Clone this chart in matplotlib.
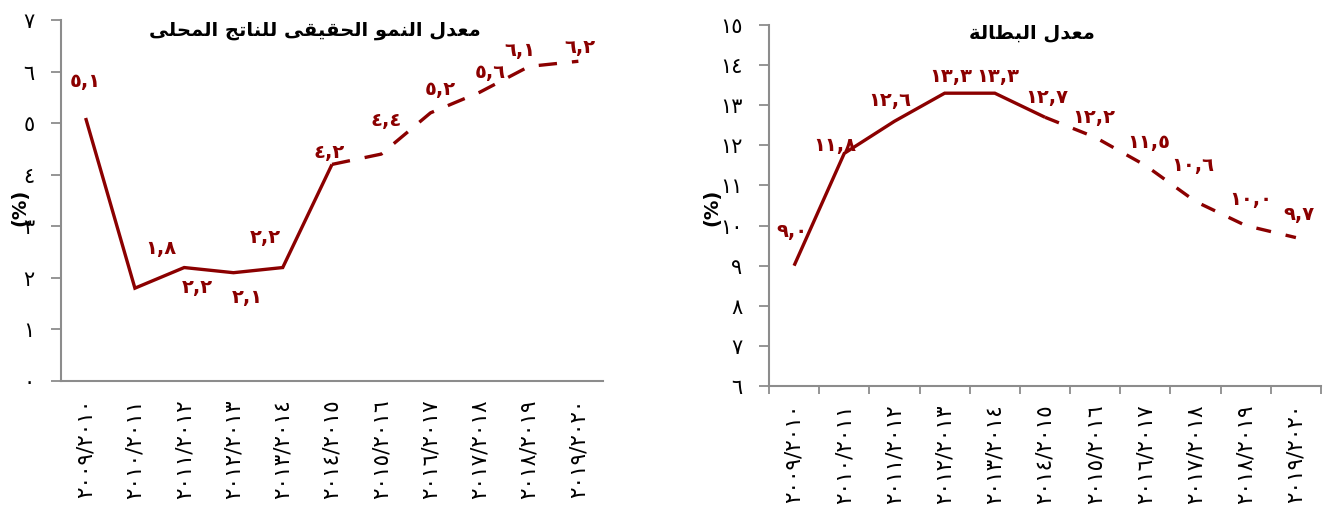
import matplotlib
matplotlib.use("Agg")
import matplotlib.pyplot as plt
from matplotlib.ticker import FixedLocator, FixedFormatter

plt.rcParams['font.family'] = ['DejaVu Sans']

# ---------------- data ----------------
years = ["٢٠٠٩/٢٠١٠", "٢٠١٠/٢٠١١", "٢٠١١/٢٠١٢", "٢٠١٢/٢٠١٣", "٢٠١٣/٢٠١٤",
         "٢٠١٤/٢٠١٥", "٢٠١٥/٢٠١٦", "٢٠١٦/٢٠١٧", "٢٠١٧/٢٠١٨", "٢٠١٨/٢٠١٩",
         "٢٠١٩/٢٠٢٠"]
gdp_growth = [5.1, 1.8, 2.2, 2.1, 2.2, 4.2, 4.4, 5.2, 5.6, 6.1, 6.2]
unemployment = [9.0, 11.8, 12.6, 13.3, 13.3, 12.7, 12.2, 11.5, 10.6, 10.0, 9.7]
actual_count = 6          # points 0..5 are actual (solid), rest projected (dashed)
title_gdp = "معدل النمو الحقيقى للناتج المحلى"
title_unemp = "معدل البطالة"
y_label = "(%)"
gdp_ticks = [0, 1, 2, 3, 4, 5, 6, 7]
unemp_ticks = [6, 7, 8, 9, 10, 11, 12, 13, 14, 15]

# label offsets in pixels (style only)
gdp_offsets = [(0, 36), (26, 40), (13, -20), (14, -25), (-17, 30), (-3, 12),
               (5, 34), (10, 23), (10, 20), (-9, 16), (2, 14)]
unemp_offsets = [(-2, 34), (-9, 8), (-5, 21), (6, 17), (3, 17), (2, 20),
                 (-1, 20), (3, 23), (-3, 36), (5, 26), (3, 23)]

RED = "#8B0000"
GREY = "#8c8c8c"

# ------------- minimal Arabic shaping (presentation forms) -------------
FORMS = {  # iso, fin, ini, med
    'ا': ('\uFE8D', '\uFE8E', None, None),
    'ب': ('\uFE8F', '\uFE90', '\uFE91', '\uFE92'),
    'ة': ('\uFE93', '\uFE94', None, None),
    'ت': ('\uFE95', '\uFE96', '\uFE97', '\uFE98'),
    'ج': ('\uFE9D', '\uFE9E', '\uFE9F', '\uFEA0'),
    'ح': ('\uFEA1', '\uFEA2', '\uFEA3', '\uFEA4'),
    'د': ('\uFEA9', '\uFEAA', None, None),
    'ط': ('\uFEC1', '\uFEC2', '\uFEC3', '\uFEC4'),
    'ع': ('\uFEC9', '\uFECA', '\uFECB', '\uFECC'),
    'ق': ('\uFED5', '\uFED6', '\uFED7', '\uFED8'),
    'ل': ('\uFEDD', '\uFEDE', '\uFEDF', '\uFEE0'),
    'م': ('\uFEE1', '\uFEE2', '\uFEE3', '\uFEE4'),
    'ن': ('\uFEE5', '\uFEE6', '\uFEE7', '\uFEE8'),
    'ه': ('\uFEE9', '\uFEEA', '\uFEEB', '\uFEEC'),
    'و': ('\uFEED', '\uFEEE', None, None),
    'ى': ('\uFEEF', '\uFEF0', '\uFBE8', '\uFBE9'),
    'ي': ('\uFEF1', '\uFEF2', '\uFEF3', '\uFEF4'),
}


def shape(text):
    chars = list(text)
    out = []
    for i, c in enumerate(chars):
        if c not in FORMS:
            out.append(c)
            continue
        prev = chars[i - 1] if i > 0 else None
        nxt = chars[i + 1] if i + 1 < len(chars) else None
        join_prev = prev in FORMS and FORMS[prev][2] is not None
        join_next = nxt in FORMS and FORMS[c][2] is not None
        iso, fin, ini, med = FORMS[c]
        if join_prev and join_next:
            out.append(med)
        elif join_prev:
            out.append(fin)
        elif join_next:
            out.append(ini)
        else:
            out.append(iso)
    return ''.join(out[::-1])


def to_ar_num(v):
    s = f"{v:.1f}".replace('.', ',')
    return s.translate(str.maketrans('0123456789', '٠١٢٣٤٥٦٧٨٩'))


def ar_int(v):
    return str(v).translate(str.maketrans('0123456789', '٠١٢٣٤٥٦٧٨٩'))


fig = plt.figure(figsize=(13.31, 5.23), dpi=100)
W, H = 1331, 523

ax1 = fig.add_axes([61 / W, 1 - 381 / H, (603 - 61) / W, (381 - 20) / H])
ax2 = fig.add_axes([769 / W, 1 - 386 / H, (1321 - 769) / W, (386 - 25) / H])


def draw(ax, values, ticks, offsets, dash, xticks_marks):
    x = list(range(len(values)))
    ax.plot(x[:actual_count], values[:actual_count], color=RED, lw=2.4,
            solid_joinstyle='miter', solid_capstyle='butt')
    ax.plot(x[actual_count - 1:], values[actual_count - 1:], color=RED, lw=2.4,
            linestyle=dash, dash_capstyle='butt')
    for xi, v, off in zip(x, values, offsets):
        ax.annotate(to_ar_num(v), (xi, v), xytext=off, textcoords='offset pixels',
                    ha='center', va='center', color=RED, fontsize=14,
                    fontweight='bold')
    ax.set_xlim(-0.5, len(values) - 0.5)
    ax.set_ylim(ticks[0], ticks[-1])
    ax.yaxis.set_major_locator(FixedLocator(ticks))
    ax.yaxis.set_major_formatter(FixedFormatter([ar_int(t) for t in ticks]))
    ax.set_xticks(x)
    ax.set_xticklabels(years, rotation=90, fontsize=15.5)
    if xticks_marks:
        ax.set_xticks([i - 0.5 for i in range(len(values) + 1)], minor=True)
        ax.tick_params(axis='x', which='minor', length=6, width=1.3,
                       color=GREY, direction='out')
    ax.tick_params(axis='x', which='major', length=0, pad=13)
    ax.tick_params(axis='y', length=7, width=1.3, color=GREY, pad=12,
                   labelsize=15)
    for s in ['top', 'right']:
        ax.spines[s].set_visible(False)
    for s in ['left', 'bottom']:
        ax.spines[s].set_color(GREY)
        ax.spines[s].set_linewidth(1.5)


draw(ax1, gdp_growth, gdp_ticks, gdp_offsets, (0, (5.5, 4.5)), False)
draw(ax2, unemployment, unemp_ticks, unemp_offsets, (0, (4.5, 4.5)), True)

fig.text(315 / W, 1 - 30 / H, shape(title_gdp), ha='center', va='center',
         fontsize=14, fontweight='bold')
fig.text(1032 / W, 1 - 33 / H, shape(title_unemp), ha='center', va='center',
         fontsize=14, fontweight='bold')
fig.text(20 / W, 1 - 207 / H, y_label, rotation=90, ha='center', va='center',
         fontsize=14, fontweight='bold')
fig.text(712 / W, 1 - 207 / H, y_label, rotation=90, ha='center', va='center',
         fontsize=14, fontweight='bold')

fig.savefig("out.png", dpi=100)
